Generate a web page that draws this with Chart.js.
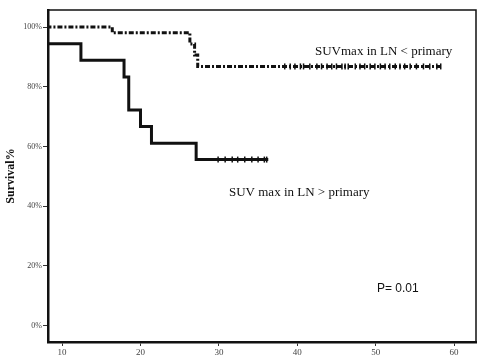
<!DOCTYPE html>
<html>
<head>
<meta charset="utf-8">
<script src="https://cdn.jsdelivr.net/npm/chart.js@4"></script>
<style>
  body { margin: 0; background: #fff; }
  canvas { display: block; }
</style>
</head>
<body>
<canvas id="kmChart" width="486" height="361"></canvas>
<script>
// Kaplan-Meier steps (time in months, survival in %)
const lowTimes = [8, 16.4, 26.3, 26.9, 27.3, 58.5];
const lowSurvival = [100, 98.1, 94.3, 90.6, 86.8, 86.8];
const lowCensored = [38.4, 39.1, 39.7, 40.4, 40.8, 41.6, 42.5, 43.1, 43.8, 44.4, 45.0, 45.7, 46.1, 46.5,
    47.4, 48.0, 48.6, 49.3, 49.9, 50.6, 51.2, 51.8, 52.5, 53.1, 53.7, 54.4, 55.2, 56.1, 56.9, 57.8, 58.3];

const highTimes = [8, 12.4, 17.9, 18.5, 20.0, 21.4, 27.1, 36.3];
const highSurvival = [94.4, 88.9, 83.3, 72.2, 66.7, 61.1, 55.6, 55.6];
const highCensored = [29.9, 30.8, 31.7, 32.4, 33.3, 34.2, 35.0, 35.8, 36.1];

const xTicks = [10, 20, 30, 40, 50, 60];
const yTicks = [0, 20, 40, 60, 80, 100];

const labelLow = "SUVmax in LN < primary";
const labelHigh = "SUV max in LN > primary";
const pLabel = "P= 0.01";

const toPoints = (xs, ys) => xs.map((x, i) => ({ x: x, y: ys[i] }));
const censorPoints = (xs, level) => xs.map(x => ({ x: x, y: level }));

const boxAndText = {
    id: "boxAndText",
    afterDraw(chart) {
        const c = chart.ctx;
        const a = chart.chartArea;
        c.save();
        c.strokeStyle = "#111";
        c.lineWidth = 1.5;
        c.beginPath();
        c.moveTo(a.left, a.top);
        c.lineTo(a.right, a.top);
        c.lineTo(a.right, a.bottom);
        c.stroke();

        c.fillStyle = "#111";
        c.textBaseline = "middle";
        c.font = "13px 'Liberation Serif'";
        c.fillText(labelLow, 315, 52);
        c.fillText(labelHigh, 229, 193);
        c.font = "12px 'Liberation Sans'";
        c.fillText(pLabel, 377, 289);
        c.restore();
    }
};

new Chart(document.getElementById("kmChart"), {
    type: "scatter",
    data: {
        datasets: [
            {
                data: toPoints(lowTimes, lowSurvival),
                showLine: true,
                stepped: true,
                borderColor: "#111",
                borderWidth: 3,
                borderDash: [5, 2, 2, 2],
                pointRadius: 0
            },
            {
                data: toPoints(highTimes, highSurvival),
                showLine: true,
                stepped: true,
                borderColor: "#111",
                borderWidth: 3,
                pointRadius: 0
            },
            {
                data: censorPoints(lowCensored, lowSurvival[lowSurvival.length - 1]),
                pointStyle: "line",
                rotation: 90,
                pointRadius: 3,
                borderColor: "#111",
                borderWidth: 1.5
            },
            {
                data: censorPoints(highCensored, highSurvival[highSurvival.length - 1]),
                pointStyle: "line",
                rotation: 90,
                pointRadius: 3,
                borderColor: "#111",
                borderWidth: 1.5
            }
        ]
    },
    options: {
        responsive: false,
        animation: false,
        layout: { padding: { top: 10, right: 10, left: 0, bottom: 0 } },
        plugins: { legend: { display: false }, tooltip: { enabled: false } },
        scales: {
            x: {
                type: "linear",
                min: 8.2,
                max: 62.8,
                afterFit: s => { s.height = 19; },
                afterBuildTicks: s => { s.ticks = xTicks.map(v => ({ value: v })); },
                border: { color: "#111", width: 2.5 },
                grid: { drawOnChartArea: false, tickLength: 4, color: "#333" },
                ticks: { padding: 1, color: "#444", font: { family: "Liberation Serif", size: 9 } }
            },
            y: {
                min: -5.5,
                max: 105.7,
                afterFit: s => { s.width = 48; },
                afterBuildTicks: s => { s.ticks = yTicks.map(v => ({ value: v })); },
                border: { color: "#111", width: 2.5 },
                grid: { drawOnChartArea: false, tickLength: 5, color: "#333" },
                ticks: {
                    padding: 1,
                    color: "#444",
                    font: { family: "Liberation Serif", size: 8 },
                    callback: v => v + "%"
                },
                title: {
                    display: true,
                    text: "Survival%",
                    color: "#111",
                    font: { family: "Liberation Serif", size: 12, weight: "bold" }
                }
            }
        }
    },
    plugins: [boxAndText]
});
</script>
</body>
</html>
